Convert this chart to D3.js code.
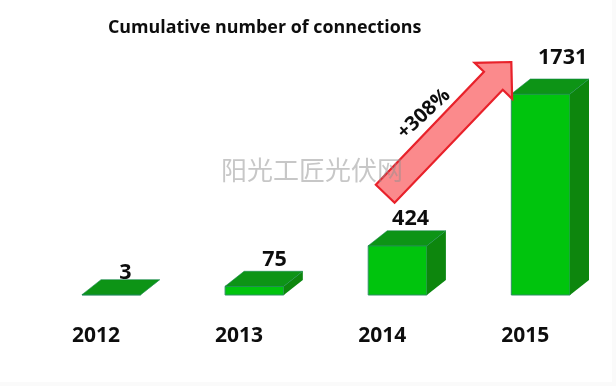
<!DOCTYPE html>
<html>
<head>
<meta charset="utf-8">
<script src="https://cdn.jsdelivr.net/npm/d3@7"></script>
<style>
  html, body { margin: 0; padding: 0; background: #fff; }
  svg { display: block; }
  text { font-family: "Open Sans", sans-serif; font-weight: 700; fill: #111; }
</style>
</head>
<body>
<div id="chart"></div>
<script>
const years = ["2012", "2013", "2014", "2015"];
const connections = [3, 75, 424, 1731];
const growthLabel = "+308%";
const chartTitle = "Cumulative number of connections";
const watermark = "阳光工匠光伏网";

const width = 616;
const height = 386;
const depth = { x: 19, y: 15 };

// value labels sit on the top face, not centred on the front, so each is nudged by hand
const labelNudge = { 2012: [14, -1], 2013: [20, -5], 2014: [13, -6], 2015: [22, -15] };

const root = d3
  .select("#chart")
  .append("svg")
  .attr("width", width)
  .attr("height", height);

// the source is a soft, recompressed screenshot
root
  .append("defs")
  .append("filter")
  .attr("id", "soft")
  .append("feGaussianBlur")
  .attr("stdDeviation", 0.4);

const svg = root.append("g").attr("filter", "url(#soft)");

svg.append("rect").attr("width", width).attr("height", height).attr("fill", "#fff");
svg.append("rect").attr("y", 382).attr("width", width).attr("height", 4).attr("fill", "#fafafa");
svg.append("rect").attr("x", 612).attr("width", 4).attr("height", height).attr("fill", "#fafafa");

const x = d3.scaleBand().domain(years).range([82, 570]).paddingInner(0.59).paddingOuter(0);
const y = d3.scaleLinear().domain([0, 1731]).range([295, 94]);

const line = d3.line();

const bars = svg
  .selectAll(".bar")
  .data(years.map((year, i) => ({ year, value: connections[i] })))
  .join("g")
  .attr("class", "bar");

// front face
bars
  .append("path")
  .attr("d", (d) => {
    const x0 = x(d.year);
    const x1 = x0 + x.bandwidth();
    return line([[x0, y(0)], [x1, y(0)], [x1, y(d.value)], [x0, y(d.value)]]) + "Z";
  })
  .attr("fill", "#05c40e")
  .attr("stroke", "#2f8f63")
  .attr("stroke-width", 1);

// right side
bars
  .append("path")
  .attr("d", (d) => {
    const x1 = x(d.year) + x.bandwidth();
    return (
      line([
        [x1, y(0)],
        [x1 + depth.x, y(0) - depth.y],
        [x1 + depth.x, y(d.value) - depth.y],
        [x1, y(d.value)],
      ]) + "Z"
    );
  })
  .attr("fill", "#07860f");

// top face
bars
  .append("path")
  .attr("d", (d) => {
    const x0 = x(d.year);
    const x1 = x0 + x.bandwidth();
    const t = y(d.value);
    return (
      line([
        [x0, t],
        [x1, t],
        [x1 + depth.x, t - depth.y],
        [x0 + depth.x, t - depth.y],
      ]) + "Z"
    );
  })
  .attr("fill", "#0a9413")
  .attr("stroke", "#1f8a55")
  .attr("stroke-width", 0.6);

bars
  .append("text")
  .attr("x", (d) => x(d.year) + x.bandwidth() / 2 + labelNudge[d.year][0])
  .attr("y", (d) => y(d.value) - depth.y + labelNudge[d.year][1])
  .attr("text-anchor", "middle")
  .style("font-size", "21.5px")
  .text((d) => d.value);

svg
  .selectAll(".year")
  .data(years)
  .join("text")
  .attr("class", "year")
  .attr("x", (d) => x(d) + 14)
  .attr("y", 342)
  .attr("text-anchor", "middle")
  .style("font-size", "21px")
  .text((d) => d);

// growth arrow runs from above the 2014 bar up to the corner of the 2015 bar
const tail = [x("2014") + 17, y(424) - 52];
const tip = [x("2015"), y(1731) - 32];
const angle = Math.atan2(tip[1] - tail[1], tip[0] - tail[0]);
const len = Math.hypot(tip[0] - tail[0], tip[1] - tail[1]);
const shaft = 13;
const headHalf = 26;
const headLen = 26;

svg
  .append("g")
  .attr("transform", `translate(${tail[0]},${tail[1]}) rotate(${(angle * 180) / Math.PI})`)
  .append("path")
  .attr(
    "d",
    line([
      [0, -shaft],
      [len - headLen, -shaft],
      [len - headLen, -headHalf],
      [len, 0],
      [len - headLen, headHalf],
      [len - headLen, shaft],
      [0, shaft],
    ]) + "Z"
  )
  .attr("fill", "#fb8a8c")
  .attr("stroke", "#e8202a")
  .attr("stroke-width", 2.2);

svg
  .append("text")
  .attr("transform", "translate(423,113) rotate(-43)")
  .attr("text-anchor", "middle")
  .attr("dy", "0.35em")
  .style("font-size", "20px")
  .text(growthLabel);

svg
  .append("text")
  .attr("x", 108)
  .attr("y", 33)
  .style("font-size", "17.85px")
  .text(chartTitle);

svg
  .append("text")
  .attr("x", 221)
  .attr("y", 180)
  .style("font-family", '"Noto Sans CJK SC"')
  .style("font-weight", 400)
  .style("font-size", "26px")
  .style("fill", "#8f8f8f")
  .style("fill-opacity", 0.5)
  .text(watermark);
</script>
</body>
</html>
